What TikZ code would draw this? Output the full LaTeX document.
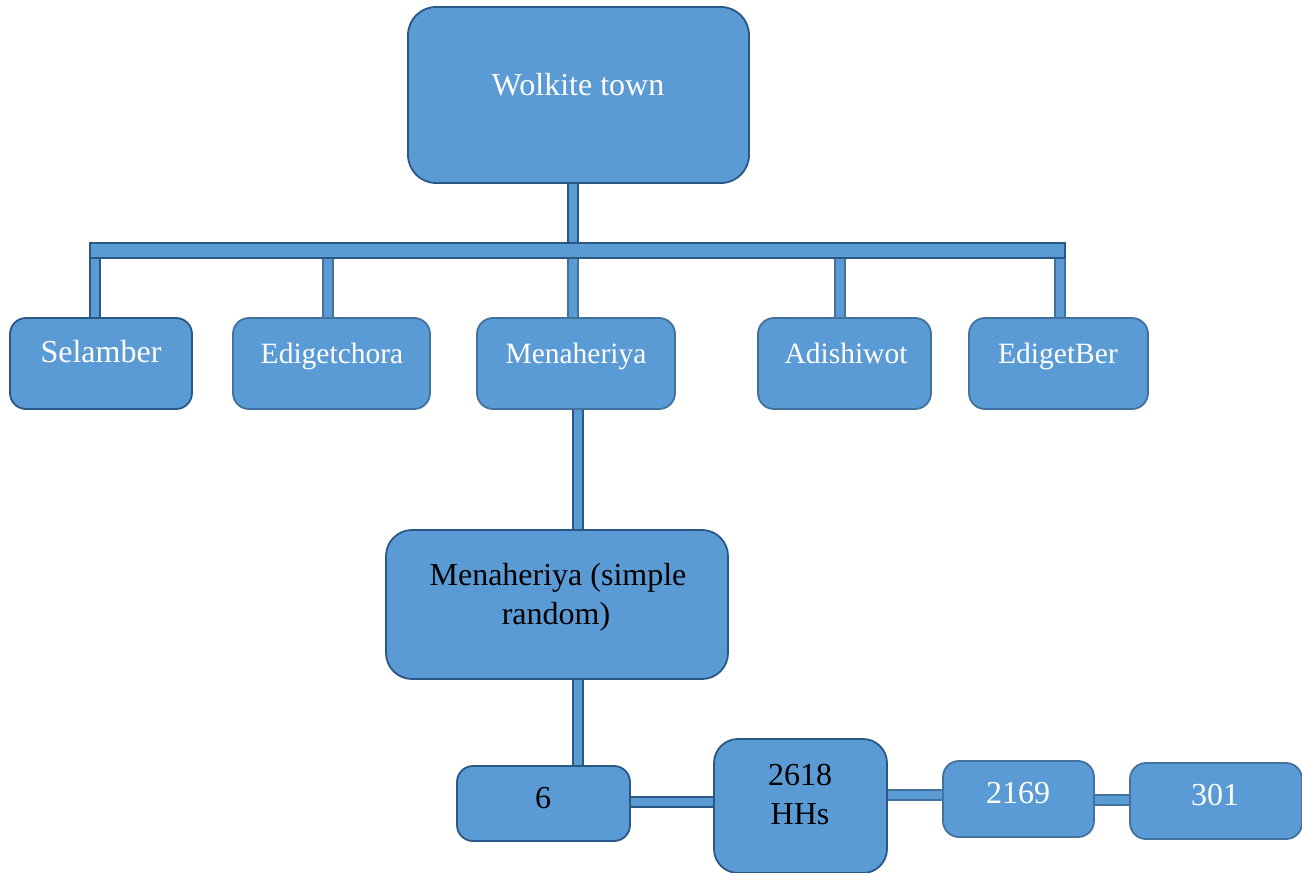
\documentclass[tikz,border=0pt]{standalone}
\usepackage{fontspec}
\setmainfont{Liberation Serif}
\definecolor{boxfill}{HTML}{5B9BD5}
\definecolor{boxdark}{HTML}{2A5783}
\definecolor{boxmid}{HTML}{41719C}
\begin{document}
\begin{tikzpicture}[x=1pt,y=-1pt,
  box/.style={rectangle, rounded corners=16pt, fill=boxfill, draw=boxdark, line width=1.8pt, inner sep=0pt},
  boxl/.style={box, draw=boxmid},
  pipe/.style={draw=boxdark, line width=1.5pt, double=boxfill, double distance=8.5pt},
  pipel/.style={pipe, draw=boxmid},
  wtxt/.style={text=white, font=\fontsize{32}{39}\selectfont, inner sep=0pt, anchor=base, align=center},
  wtxts/.style={wtxt, font=\fontsize{29.5}{36}\selectfont},
  btxt/.style={wtxt, text=black}]
\useasboundingbox (0,0) rectangle (1302,873);

\coordinate (b1) at (95,250);
\coordinate (b2) at (328,250);
\coordinate (b3) at (573,250);
\coordinate (b4) at (840,250);
\coordinate (b5) at (1060,250);
\coordinate (p1) at (573,0);
\coordinate (p2) at (578,0);

% node placeholders for geometry
\path (578.5,95) node[minimum width=341pt, minimum height=176pt] (wolk) {};
\path (101,363.5) node[minimum width=182pt, minimum height=91pt] (sel) {};
\path (331.5,363.5) node[minimum width=197pt, minimum height=91pt] (edc) {};
\path (576,363.5) node[minimum width=198pt, minimum height=91pt] (men) {};
\path (844.5,363.5) node[minimum width=173pt, minimum height=91pt] (adi) {};
\path (1058.5,363.5) node[minimum width=179pt, minimum height=91pt] (edb) {};
\path (557,604.5) node[minimum width=342pt, minimum height=149pt] (msr) {};
\path (543.5,803.5) node[minimum width=173pt, minimum height=75pt] (six) {};
\path (800.5,806) node[minimum width=173pt, minimum height=134pt] (hh) {};
\path (1018.5,799) node[minimum width=151pt, minimum height=76pt] (b2169) {};
\path (1216,801) node[minimum width=172pt, minimum height=76pt] (b301) {};

% pipes
\draw[pipe] (wolk.south -| p1) -- (b3);
\draw[pipe] (b1) -- (b1 |- sel.north);
\draw[pipel] (b2) -- (b2 |- edc.north);
\draw[pipel] (b3) -- (b3 |- men.north);
\draw[pipel] (b4) -- (b4 |- adi.north);
\draw[pipel] (b5) -- (b5 |- edb.north);
\draw[pipe] (men.south -| p2) -- (msr.north -| p2);
\draw[pipe] (msr.south -| p2) -- (six.north -| p2);
\coordinate (h1) at (0,802);
\coordinate (h2) at (0,795);
\coordinate (h3) at (0,800);
\draw[pipe] (six.east |- h1) -- (hh.west |- h1);
\draw[pipel] (hh.east |- h2) -- (b2169.west |- h2);
\draw[pipel] (b2169.east |- h3) -- (b301.west |- h3);
\coordinate (barL) at (90,243);
\coordinate (barR) at (1065,258);
\draw[fill=boxfill, draw=boxdark, line width=1.5pt] (barL) rectangle (barR);

% boxes
\node[box, rounded corners=28pt, minimum width=341pt, minimum height=176pt] at (wolk) {};
\node[box, minimum width=182pt, minimum height=91pt] at (sel) {};
\node[boxl, minimum width=197pt, minimum height=91pt] at (edc) {};
\node[boxl, minimum width=198pt, minimum height=91pt] at (men) {};
\node[boxl, minimum width=173pt, minimum height=91pt] at (adi) {};
\node[boxl, minimum width=179pt, minimum height=91pt] at (edb) {};
\node[box, rounded corners=26pt, minimum width=342pt, minimum height=149pt] at (msr) {};
\node[box, minimum width=173pt, minimum height=75pt] at (six) {};
\node[box, rounded corners=24pt, minimum width=173pt, minimum height=134pt] at (hh) {};
\node[boxl, minimum width=151pt, minimum height=76pt] at (b2169) {};
\node[boxl, minimum width=172pt, minimum height=76pt] at (b301) {};

% texts
\node[wtxt] (t1) at (578,95) {Wolkite town};
\node[wtxt] (t2) at (101,362) {Selamber};
\node[wtxts] (t3) at (332,363) {Edigetchora};
\node[wtxts] (t4) at (576,363) {Menaheriya};
\node[wtxts] (t5) at (846,363) {Adishiwot};
\node[wtxts] (t6) at (1058,363) {EdigetBer};
\node[btxt] (t7) at (558,585) {Menaheriya (simple};
\node[btxt] (t8) at (556,624) {random)};
\node[btxt] (t9) at (543,808) {6};
\node[btxt] (t10) at (800,785) {2618};
\node[btxt] (t11) at (800,824) {HHs};
\node[wtxt] (t12) at (1018,803) {2169};
\node[wtxt] (t13) at (1215,805) {301};
\end{tikzpicture}
\end{document}
